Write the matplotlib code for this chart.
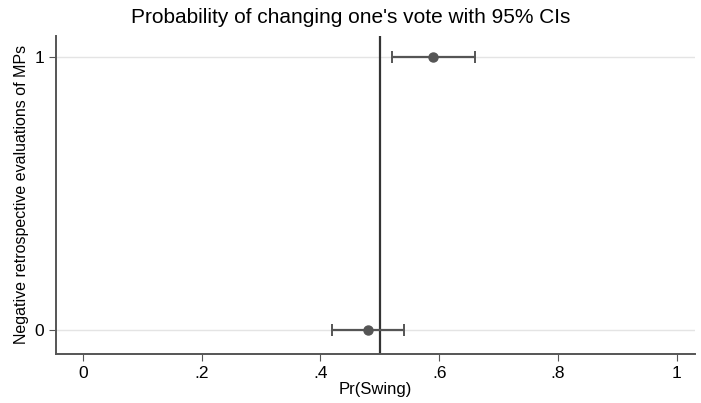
import matplotlib.pyplot as plt

plt.rcParams['font.family'] = ['Liberation Sans', 'DejaVu Sans']

groups = [0, 1]
estimates = [0.48, 0.59]
ci_low = [0.42, 0.52]
ci_high = [0.54, 0.66]
x_ticks = [0, 0.2, 0.4, 0.6, 0.8, 1.0]
x_tick_labels = ['0', '.2', '.4', '.6', '.8', '1']

fig = plt.figure(figsize=(7.01, 4.03), dpi=100)
ax = fig.add_axes([0.080, 0.1216, 0.911, 0.79])

ax.set_xlim(-0.045, 1.03)
ax.set_ylim(-0.088, 1.08)

# lignes de grille horizontales
for g in groups:
    ax.axhline(g, color='#e4e4e4', lw=1, zorder=0)

err = [[e - l for e, l in zip(estimates, ci_low)],
       [h - e for e, h in zip(estimates, ci_high)]]
ax.errorbar(estimates, groups, xerr=err, fmt='o', color='#555555',
            ms=6.5, elinewidth=1.6, capsize=4, capthick=1.4, zorder=3)

ax.axvline(0.5, color='#333333', lw=1.6, zorder=2)

ax.set_xticks(x_ticks)
ax.set_xticklabels(x_tick_labels, fontsize=12.5)
ax.set_yticks(groups)
ax.set_yticklabels([str(g) for g in groups], fontsize=12.5)
ax.tick_params(length=5, color='#555555')

for side in ['top', 'right']:
    ax.spines[side].set_visible(False)
for side in ['left', 'bottom']:
    ax.spines[side].set_color('#555555')
    ax.spines[side].set_linewidth(1.4)

ax.set_xlabel('Pr(Swing)', fontsize=12, labelpad=1)
ax.set_ylabel('Negative retrospective evaluations of MPs', fontsize=11.5, labelpad=4)
fig.suptitle("Probability of changing one's vote with 95% CIs", fontsize=15, y=0.98)

fig.savefig('out.png', dpi=100)
